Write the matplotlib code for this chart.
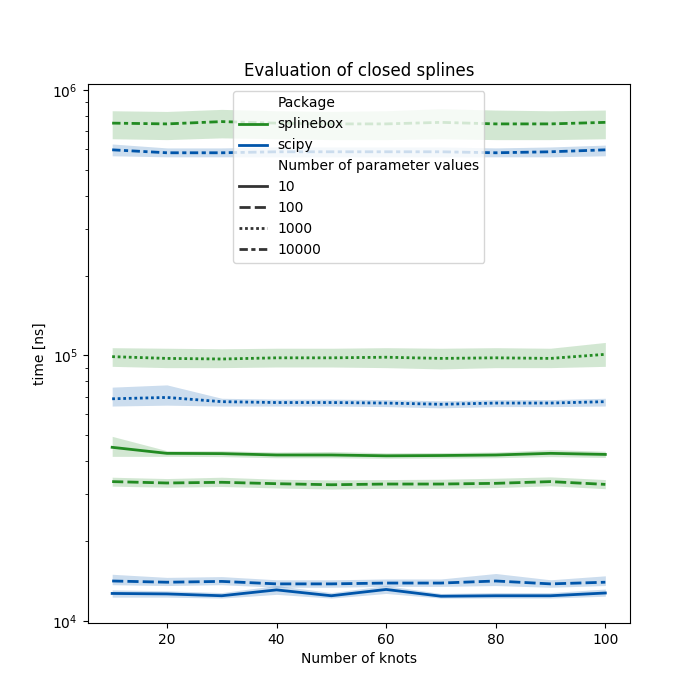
import matplotlib
matplotlib.use("Agg")
import matplotlib.pyplot as plt
from matplotlib.lines import Line2D

knots = [10, 20, 30, 40, 50, 60, 70, 80, 90, 100]
n_values = [10, 100, 1000, 10000]
packages = ["splinebox", "scipy"]

# mean times [ns] per number of parameter values
splinebox_mean = {
    10: [4.51e4, 4.28e4, 4.27e4, 4.22e4, 4.22e4, 4.19e4, 4.20e4, 4.22e4, 4.28e4, 4.24e4],
    100: [3.35e4, 3.31e4, 3.33e4, 3.29e4, 3.26e4, 3.28e4, 3.28e4, 3.30e4, 3.35e4, 3.27e4],
    1000: [9.9e4, 9.75e4, 9.7e4, 9.8e4, 9.8e4, 9.85e4, 9.75e4, 9.8e4, 9.75e4, 1.01e5],
    10000: [7.5e5, 7.45e5, 7.6e5, 7.5e5, 7.45e5, 7.45e5, 7.55e5, 7.45e5, 7.45e5, 7.55e5],
}
splinebox_lo = {
    10: [4.17e4, 4.17e4, 4.16e4, 4.12e4, 4.12e4, 4.10e4, 4.11e4, 4.12e4, 4.16e4, 4.13e4],
    100: [3.22e4, 3.19e4, 3.21e4, 3.17e4, 3.14e4, 3.16e4, 3.16e4, 3.18e4, 3.23e4, 3.15e4],
    1000: [9.1e4, 9.0e4, 9.0e4, 9.05e4, 9.05e4, 9.0e4, 8.9e4, 9.0e4, 9.0e4, 9.1e4],
    10000: [6.55e5, 6.5e5, 6.6e5, 6.55e5, 6.5e5, 6.5e5, 6.55e5, 6.5e5, 6.5e5, 6.55e5],
}
splinebox_hi = {
    10: [4.96e4, 4.38e4, 4.38e4, 4.33e4, 4.35e4, 4.30e4, 4.31e4, 4.33e4, 4.42e4, 4.36e4],
    100: [3.48e4, 3.44e4, 3.48e4, 3.42e4, 3.40e4, 3.41e4, 3.42e4, 3.45e4, 3.49e4, 3.41e4],
    1000: [1.07e5, 1.065e5, 1.06e5, 1.065e5, 1.065e5, 1.07e5, 1.065e5, 1.07e5, 1.065e5, 1.12e5],
    10000: [8.35e5, 8.3e5, 8.45e5, 8.35e5, 8.3e5, 8.35e5, 8.5e5, 8.4e5, 8.35e5, 8.4e5],
}

scipy_mean = {
    10: [1.27e4, 1.265e4, 1.245e4, 1.31e4, 1.245e4, 1.315e4, 1.24e4, 1.245e4, 1.245e4, 1.275e4],
    100: [1.415e4, 1.40e4, 1.41e4, 1.38e4, 1.38e4, 1.39e4, 1.39e4, 1.415e4, 1.38e4, 1.40e4],
    1000: [6.87e4, 6.95e4, 6.7e4, 6.65e4, 6.65e4, 6.62e4, 6.55e4, 6.62e4, 6.62e4, 6.7e4],
    10000: [5.95e5, 5.8e5, 5.8e5, 5.85e5, 5.85e5, 5.85e5, 5.85e5, 5.8e5, 5.85e5, 5.95e5],
}
scipy_lo = {
    10: [1.23e4, 1.23e4, 1.22e4, 1.26e4, 1.22e4, 1.27e4, 1.22e4, 1.22e4, 1.22e4, 1.24e4],
    100: [1.37e4, 1.36e4, 1.37e4, 1.34e4, 1.34e4, 1.35e4, 1.35e4, 1.36e4, 1.34e4, 1.36e4],
    1000: [6.45e4, 6.5e4, 6.45e4, 6.45e4, 6.45e4, 6.42e4, 6.35e4, 6.42e4, 6.42e4, 6.45e4],
    10000: [5.65e5, 5.6e5, 5.6e5, 5.6e5, 5.6e5, 5.6e5, 5.6e5, 5.6e5, 5.6e5, 5.65e5],
}
scipy_hi = {
    10: [1.31e4, 1.30e4, 1.28e4, 1.36e4, 1.28e4, 1.36e4, 1.27e4, 1.28e4, 1.28e4, 1.32e4],
    100: [1.50e4, 1.46e4, 1.47e4, 1.43e4, 1.43e4, 1.44e4, 1.44e4, 1.51e4, 1.43e4, 1.48e4],
    1000: [7.6e4, 7.75e4, 6.9e4, 6.85e4, 6.85e4, 6.82e4, 6.75e4, 6.82e4, 6.82e4, 6.9e4],
    10000: [6.26e5, 6.05e5, 6.05e5, 6.1e5, 6.1e5, 6.1e5, 6.1e5, 6.05e5, 6.1e5, 6.2e5],
}

colors = {"splinebox": "#228b22", "scipy": "#0055aa"}
dashes = {10: "", 100: (4, 1.5), 1000: (1, 1), 10000: (3, 1.25, 1.5, 1.25)}

fig, ax = plt.subplots(figsize=(7, 7), dpi=100)

data = {
    "splinebox": (splinebox_mean, splinebox_lo, splinebox_hi),
    "scipy": (scipy_mean, scipy_lo, scipy_hi),
}
for pkg in packages:
    mean, lo, hi = data[pkg]
    for n in n_values:
        line, = ax.plot(knots, mean[n], color=colors[pkg], lw=2)
        if dashes[n]:
            line.set_dashes(dashes[n])
        ax.fill_between(knots, lo[n], hi[n], color=colors[pkg], alpha=0.2, linewidth=0)

ax.set_yscale("log")
ax.set_ylim(9.83e3, 1.053e6)
ax.set_xlabel("Number of knots")
ax.set_ylabel("time [ns]")
ax.set_title("Evaluation of closed splines")

# seaborn-like legend with subtitles
handles, labels = [], []
handles.append(Line2D([], [], color="none")); labels.append("Package")
for pkg in packages:
    handles.append(Line2D([], [], color=colors[pkg], lw=2)); labels.append(pkg)
handles.append(Line2D([], [], color="none")); labels.append("Number of parameter values")
for n in n_values:
    h = Line2D([], [], color=".2", lw=2)
    if dashes[n]:
        h.set_dashes(dashes[n])
    handles.append(h); labels.append(str(n))
ax.legend(handles, labels, loc="upper center")

plt.savefig("out.png")
